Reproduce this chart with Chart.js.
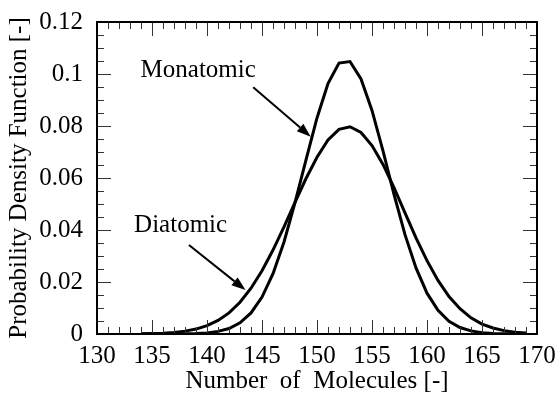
<!DOCTYPE html>
<html>
<head>
<meta charset="utf-8">
<script src="https://cdn.jsdelivr.net/npm/chart.js@4.4.1/dist/chart.umd.min.js"></script>
<style>
  html, body { margin: 0; padding: 0; background: #fff; }
  #wrap { width: 557px; height: 394px; }
</style>
</head>
<body>
<div id="wrap"><canvas id="chart"></canvas></div>
<script>
/* PDF of molecule count — monatomic vs diatomic */

const molecules = [
  134, 135, 136, 137, 138, 139, 140, 141, 142, 143, 144, 145,
  146, 147, 148, 149, 150, 151, 152, 153, 154, 155, 156, 157,
  158, 159, 160, 161, 162, 163, 164, 165, 166, 167, 168, 169,
];

const monatomic = [
  0.0000, 0.0000, 0.0000, 0.0000, 0.0001, 0.0002, 0.0004, 0.0010, 0.0021, 0.0043, 0.0081, 0.0142,
  0.0232, 0.0354, 0.0505, 0.0670, 0.0831, 0.0963, 0.1042, 0.1048, 0.0981, 0.0860, 0.0704, 0.0537,
  0.0382, 0.0254, 0.0157, 0.0091, 0.0049, 0.0025, 0.0012, 0.0005, 0.0002, 0.0001, 0.0000, 0.0000,
];

const diatomic = [
  0.0001, 0.0002, 0.0003, 0.0006, 0.0011, 0.0019, 0.0032, 0.0052, 0.0081, 0.0122, 0.0176, 0.0243,
  0.0323, 0.0412, 0.0506, 0.0598, 0.0680, 0.0746, 0.0787, 0.0797, 0.0775, 0.0725, 0.0652, 0.0563,
  0.0466, 0.0370, 0.0282, 0.0206, 0.0144, 0.0097, 0.0062, 0.0038, 0.0023, 0.0013, 0.0007, 0.0004,
];

const X_MIN = 130, X_MAX = 170, X_MAJOR = 5, X_MINOR = 1;
const Y_MIN = 0, Y_MAX = 0.12, Y_MAJOR = 0.02, Y_MINOR = 0.005;

// labels + arrows, in data coordinates
const notes = [
  { text: "Monatomic", x: 139.2, y: 0.099, fromX: 144.2, fromY: 0.0949, toX: 149.43, toY: 0.0759 },
  { text: "Diatomic", x: 137.6, y: 0.0393, fromX: 138.36, fromY: 0.0342, toX: 143.5, toY: 0.0169 },
];

const SERIF = "'Liberation Serif', 'Times New Roman', Times, serif";

const frameTicks = {
  id: "frameTicks",
  afterDatasetsDraw(chart) {
    const { ctx, chartArea: a, scales: { x, y } } = chart;
    ctx.save();
    ctx.strokeStyle = "#333";
    ctx.lineWidth = 1;
    ctx.beginPath();
    const nx = Math.round((X_MAX - X_MIN) / X_MINOR);
    for (let i = 0; i <= nx; i++) {
      const px = Math.round(x.getPixelForValue(X_MIN + i * X_MINOR)) + 0.5;
      const len = i % Math.round(X_MAJOR / X_MINOR) === 0 ? 14 : 7;
      ctx.moveTo(px, a.bottom); ctx.lineTo(px, a.bottom - len);
      ctx.moveTo(px, a.top); ctx.lineTo(px, a.top + len);
    }
    const ny = Math.round((Y_MAX - Y_MIN) / Y_MINOR);
    for (let i = 0; i <= ny; i++) {
      const py = Math.round(y.getPixelForValue(Y_MIN + i * Y_MINOR)) + 0.5;
      const len = i % Math.round(Y_MAJOR / Y_MINOR) === 0 ? 14 : 7;
      ctx.moveTo(a.left, py); ctx.lineTo(a.left + len, py);
      ctx.moveTo(a.right, py); ctx.lineTo(a.right - len, py);
    }
    ctx.stroke();
    ctx.strokeStyle = "#000";
    ctx.lineWidth = 2;
    ctx.strokeRect(a.left, a.top, a.width, a.height);
    ctx.restore();
  },
  afterDraw(chart) {
    const { ctx, scales: { x, y } } = chart;
    ctx.save();
    ctx.fillStyle = "#000";
    ctx.strokeStyle = "#000";
    ctx.font = "25px " + SERIF;
    ctx.textAlign = "center";
    ctx.textBaseline = "alphabetic";
    for (const n of notes) {
      ctx.fillText(n.text, x.getPixelForValue(n.x), y.getPixelForValue(n.y));
      const x0 = x.getPixelForValue(n.fromX), y0 = y.getPixelForValue(n.fromY);
      const x1 = x.getPixelForValue(n.toX), y1 = y.getPixelForValue(n.toY);
      const ang = Math.atan2(y1 - y0, x1 - x0);
      const head = 14, half = 5;
      const bx = x1 - head * Math.cos(ang), by = y1 - head * Math.sin(ang);
      ctx.lineWidth = 2;
      ctx.beginPath();
      ctx.moveTo(x0, y0);
      ctx.lineTo(bx, by);
      ctx.stroke();
      ctx.beginPath();
      ctx.moveTo(x1, y1);
      ctx.lineTo(bx + half * Math.sin(ang), by - half * Math.cos(ang));
      ctx.lineTo(bx - half * Math.sin(ang), by + half * Math.cos(ang));
      ctx.closePath();
      ctx.fill();
    }
    ctx.restore();
  },
};

const series = (data) => ({
  data: molecules.map((m, i) => ({ x: m, y: data[i] })),
  borderColor: "#000",
  borderWidth: 3,
  pointRadius: 0,
  tension: 0,
  fill: false,
});

new Chart(document.getElementById("chart"), {
  type: "line",
  data: { datasets: [series(monatomic), series(diatomic)] },
  options: {
    responsive: true,
    maintainAspectRatio: false,
    animation: false,
    layout: { padding: { top: 22, right: 20, left: 0, bottom: 0 } },
    plugins: { legend: { display: false }, tooltip: { enabled: false } },
    scales: {
      x: {
        type: "linear",
        min: X_MIN,
        max: X_MAX,
        grid: { display: false, drawTicks: false },
        border: { display: false },
        ticks: {
          stepSize: X_MAJOR,
          color: "#000",
          padding: 7,
          maxRotation: 0,
          font: { family: SERIF, size: 25 },
        },
        title: {
          display: true,
          text: "Number  of  Molecules [-]",
          color: "#000",
          font: { family: SERIF, size: 25, lineHeight: 1 },
          padding: { top: 0, bottom: 0 },
        },
        afterFit: (s) => {
          s.height = 60;
          s.paddingLeft = 0;
          s.paddingRight = 0;
        },
      },
      y: {
        min: Y_MIN,
        max: Y_MAX,
        grid: { display: false, drawTicks: false },
        border: { display: false },
        ticks: {
          stepSize: Y_MAJOR,
          color: "#000",
          padding: 14,
          font: { family: SERIF, size: 25 },
          callback: (v) => String(parseFloat(v.toFixed(3))),
        },
        title: {
          display: true,
          text: "Probability Density Function [-]",
          color: "#000",
          font: { family: SERIF, size: 25, lineHeight: 1 },
          padding: { top: 7, bottom: 0 },
        },
        afterFit: (s) => {
          s.width = 97;
          s.paddingTop = 0;
          s.paddingBottom = 0;
        },
      },
    },
  },
  plugins: [frameTicks],
});
</script>
</body>
</html>
